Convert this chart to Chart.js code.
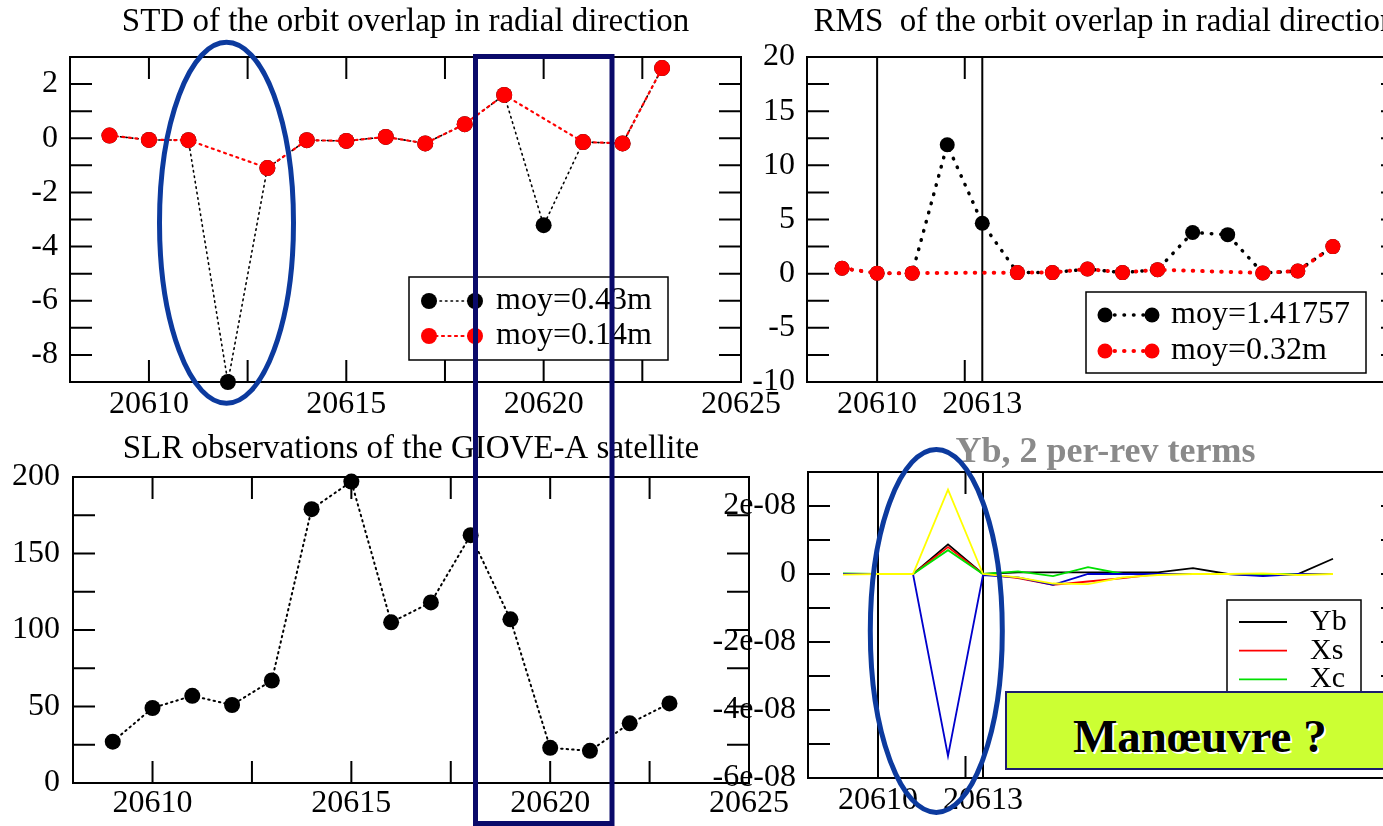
<!DOCTYPE html>
<html>
<head>
<meta charset="utf-8">
<script src="https://cdn.jsdelivr.net/npm/chart.js@4/dist/chart.umd.min.js"></script>
<style>
  html, body { margin: 0; padding: 0; background: #fff; width: 1383px; height: 826px; overflow: hidden; position: relative; }
  canvas { position: absolute; }
  #overlay { position: absolute; left: 0; top: 0; pointer-events: none; }
  #manoeuvre {
    position: absolute; left: 1005px; top: 691px; width: 420px; height: 79px;
    background: #ccff33; border: 2px solid #1c1c6e; box-sizing: border-box;
    font: bold 47px 'Liberation Serif', serif; color: #000;
    text-shadow: 2px 2px 0 #fff; line-height: 86px; padding-left: 66px; white-space: nowrap;
  }
</style>
</head>
<body>
<canvas id="std" width="790" height="425" style="left:0;top:0"></canvas>
<canvas id="rms" width="680" height="425" style="left:740px;top:0"></canvas>
<canvas id="slr" width="790" height="406" style="left:0;top:420px"></canvas>
<canvas id="terms" width="720" height="406" style="left:700px;top:420px"></canvas>
<div id="manoeuvre">Manœuvre ?</div>
<svg id="overlay" width="1383" height="826">
  <ellipse cx="226.5" cy="222.8" rx="67" ry="180.5" fill="none" stroke="#0c3a9e" stroke-width="5"/>
  <rect x="475.5" y="56.5" width="136.5" height="767" fill="none" stroke="#0a0a6a" stroke-width="5"/>
  <ellipse cx="936.3" cy="630.9" rx="66" ry="181.5" fill="none" stroke="#0c3a9e" stroke-width="5"/>
</svg>
<script>
const FONT = "'Liberation Serif', 'Times New Roman', serif";
Chart.defaults.font.family = FONT;
Chart.defaults.font.size = 32;
Chart.defaults.color = "#000";
Chart.defaults.animation = false;

// Data
const days = [20609, 20610, 20611, 20612, 20613, 20614, 20615, 20616, 20617, 20618, 20619, 20620, 20621, 20622, 20623];

const stdBlack = [0.1, -0.06, -0.07, -9.0, -1.1, -0.07, -0.1, 0.05, -0.19, 0.52, 1.6, -3.21, -0.14, -0.19, 2.59];
const stdRed = [0.1, -0.06, -0.07, null, -1.1, -0.07, -0.1, 0.05, -0.19, 0.52, 1.6, null, -0.14, -0.19, 2.59];
const stdLabels = ["moy=0.43m", "moy=0.14m"];

const rmsBlack = [0.5, 0.05, 0.05, 11.9, 4.65, 0.1, 0.1, 0.43, 0.1, 0.37, 3.8, 3.6, 0.06, 0.25, 2.5];
const rmsRed = [0.5, 0.05, 0.05, null, null, 0.1, 0.1, 0.43, 0.1, 0.37, null, null, 0.06, 0.25, 2.5];
const rmsLabels = ["moy=1.41757", "moy=0.32m"];

const slrCounts = [27, 49, 57, 51, 67, 179, 197, 105, 118, 162, 107, 23, 21, 39, 52];

// per-rev terms, in units of 1e-8
const termYb = [0, 0, 0, 0.87, 0, 0.05, 0.05, 0.05, 0.05, 0.05, 0.17, 0, -0.04, 0, 0.45];
const termXs = [0, 0, 0, 0.79, 0, -0.12, -0.32, -0.22, -0.12, 0, 0, 0, 0, 0, 0];
const termXc = [0.02, 0, 0, 0.7, 0, 0.08, -0.06, 0.2, 0, 0, 0, 0, 0, 0, 0];
const termYs = [0, 0, 0, -5.35, -0.03, -0.1, -0.32, 0, 0, 0, 0, 0, -0.06, 0, 0];
const termYc = [-0.02, 0, 0, 2.48, 0, -0.1, -0.28, -0.3, -0.1, -0.03, 0, 0, 0.02, -0.03, 0];
const termNames = ["Yb", "Xs", "Xc", "Ys", "Yc"];

const wideXTicks = [20610, 20612.5, 20615, 20617.5, 20620, 20622.5, 20625];
const wideXLabels = [20610, 20615, 20620, 20625];
const narrowXTicks = [20610, 20612.5, 20613];
const narrowXLabels = [20610, 20613];
const termYTicks = [-6, -5, -4, -3, -2, -1, 0, 1, 2, 3];

const pts = (vals, scale = 1) => days.map((d, i) => ({ x: d, y: vals[i] === null ? null : vals[i] * scale }));

// Box with inner ticks on all four sides (xmgrace style)
const framePlugin = {
  id: "frame",
  beforeDatasetsDraw(chart, args, o) {
    const { ctx, chartArea: a, scales: { x, y } } = chart;
    const len = o.len || 22;
    ctx.save();
    ctx.strokeStyle = "#000";
    ctx.lineWidth = 2;
    ctx.strokeRect(a.left, a.top, a.right - a.left, a.bottom - a.top);
    ctx.beginPath();
    x.ticks.forEach((t) => {
      const px = x.getPixelForValue(t.value);
      ctx.moveTo(px, a.bottom); ctx.lineTo(px, a.bottom - len);
      ctx.moveTo(px, a.top); ctx.lineTo(px, a.top + len);
    });
    y.ticks.forEach((t) => {
      const py = y.getPixelForValue(t.value);
      ctx.moveTo(a.left, py); ctx.lineTo(a.left + len, py);
      ctx.moveTo(a.right, py); ctx.lineTo(a.right - len, py);
    });
    (o.xLines || []).forEach((v) => {
      const px = x.getPixelForValue(v);
      ctx.moveTo(px, a.top); ctx.lineTo(px, a.bottom);
    });
    ctx.stroke();
    ctx.restore();
  },
};

// Boxed legend placed inside the plot
const boxLegend = {
  id: "boxLegend",
  afterDatasetsDraw(chart, args, o) {
    if (!o.width) return;
    const { ctx, chartArea: a } = chart;
    const left = a.left + o.left, top = a.top + o.top;
    ctx.save();
    ctx.fillStyle = "#fff";
    ctx.fillRect(left, top, o.width, o.height);
    ctx.strokeStyle = "#000";
    ctx.lineWidth = 1.5;
    ctx.strokeRect(left, top, o.width, o.height);
    chart.data.datasets.forEach((ds, i) => {
      const cy = top + o.firstRow + i * o.rowGap;
      const x1 = left + o.sampleStart, x2 = left + o.sampleEnd;
      ctx.beginPath();
      ctx.setLineDash(ds.borderDash || []);
      ctx.lineCap = ds.borderCapStyle || "butt";
      ctx.strokeStyle = ds.borderColor;
      ctx.lineWidth = ds.borderWidth;
      ctx.moveTo(x1, cy); ctx.lineTo(x2, cy);
      ctx.stroke();
      ctx.setLineDash([]);
      if (ds.pointRadius) {
        ctx.fillStyle = ds.pointBackgroundColor;
        [x1, x2].forEach((px) => { ctx.beginPath(); ctx.arc(px, cy, ds.pointRadius, 0, Math.PI * 2); ctx.fill(); });
      }
      ctx.fillStyle = "#000";
      ctx.font = (o.fontSize || 32) + "px " + FONT;
      ctx.textBaseline = "middle";
      ctx.textAlign = "left";
      ctx.fillText(ds.label, left + o.textX, cy);
    });
    ctx.restore();
  },
};

function baseOptions({ title, titleFont, titleColor, titlePad, xMin, xMax, xTicks, xLabels, yMin, yMax, yStep, yTicks, yLabel, yWidth, xHeight, xPad, yPad, padRight, legend, frame }) {
  return {
    responsive: false,
    clip: false,
    layout: { autoPadding: false, padding: { left: 0, right: padRight, top: 0, bottom: 0 } },
    plugins: {
      legend: { display: false },
      tooltip: { enabled: false },
      title: {
        display: true, text: title, fullSize: false, color: titleColor || "#000",
        font: Object.assign({ size: 33, lineHeight: 1, weight: "normal" }, titleFont || {}),
        padding: titlePad,
      },
      boxLegend: legend,
      frame: frame || {},
    },
    scales: {
      x: {
        type: "linear", min: xMin, max: xMax,
        grid: { display: false, drawTicks: false }, border: { display: false },
        afterBuildTicks: (s) => { s.ticks = xTicks.map((v) => ({ value: v })); },
        afterFit: (s) => { s.height = xHeight; },
        ticks: { autoSkip: false, maxRotation: 0, padding: xPad, callback: (v) => (xLabels.includes(v) ? String(v) : "") },
      },
      y: {
        type: "linear", min: yMin, max: yMax,
        grid: { display: false, drawTicks: false }, border: { display: false },
        afterBuildTicks: yTicks ? (s) => { s.ticks = yTicks.map((v) => ({ value: v })); } : undefined,
        afterFit: (s) => { s.width = yWidth; },
        ticks: { autoSkip: false, padding: yPad, stepSize: yStep, callback: yLabel },
      },
    },
  };
}

const dotted = (color, width, dash, radius) => ({
  borderColor: color, borderWidth: width, borderDash: dash, borderCapStyle: "round",
  pointRadius: radius, pointBackgroundColor: color, pointBorderWidth: 0,
  pointHoverRadius: radius, spanGaps: true, tension: 0, clip: false,
});

new Chart(document.getElementById("std"), {
  type: "line",
  data: {
    datasets: [
      Object.assign({ label: stdLabels[0], data: pts(stdBlack), order: 2 }, dotted("#000", 1.6, [1.5, 4], 8)),
      Object.assign({ label: stdLabels[1], data: pts(stdRed), order: 1 }, dotted("#ff0000", 2.2, [2, 4.5], 8)),
    ],
  },
  options: baseOptions({
    title: "STD of the orbit overlap in radial direction", titlePad: { top: 6, bottom: 18 },
    xMin: 20608, xMax: 20625, xTicks: wideXTicks, xLabels: wideXLabels,
    yMin: -9, yMax: 3, yStep: 1, yLabel: (v) => (v % 2 === 0 ? String(v) : ""),
    yWidth: 70, xHeight: 43, xPad: 3, yPad: 12, padRight: 49,
    legend: { left: 339, top: 220, width: 259, height: 83, firstRow: 24, rowGap: 35, sampleStart: 20, sampleEnd: 66, textX: 87 },
  }),
  plugins: [framePlugin, boxLegend],
});

new Chart(document.getElementById("rms"), {
  type: "line",
  data: {
    datasets: [
      Object.assign({ label: rmsLabels[0], data: pts(rmsBlack), order: 2 }, dotted("#000", 3.5, [0.5, 9], 7.5)),
      Object.assign({ label: rmsLabels[1], data: pts(rmsRed), order: 1 }, dotted("#ff0000", 4, [0.5, 9], 7.5)),
    ],
  },
  options: baseOptions({
    title: "RMS  of the orbit overlap in radial direction", titlePad: { top: 6, bottom: 18 },
    xMin: 20608, xMax: 20625, xTicks: narrowXTicks, xLabels: narrowXLabels,
    yMin: -10, yMax: 20, yStep: 2.5, yLabel: (v) => (v % 5 === 0 ? String(v) : ""),
    yWidth: 67, xHeight: 43, xPad: 3, yPad: 12, padRight: 17,
    legend: { left: 279, top: 235, width: 280, height: 81, firstRow: 23, rowGap: 36, sampleStart: 19, sampleEnd: 66, textX: 85 },
    frame: { xLines: narrowXLabels },
  }),
  plugins: [framePlugin, boxLegend],
});

new Chart(document.getElementById("slr"), {
  type: "line",
  data: {
    datasets: [
      Object.assign({ label: "SLR", data: pts(slrCounts) }, dotted("#000", 2, [1.5, 4], 8)),
    ],
  },
  options: baseOptions({
    title: "SLR observations of the GIOVE-A satellite", titlePad: { top: 13, bottom: 11 },
    xMin: 20608, xMax: 20625, xTicks: wideXTicks, xLabels: wideXLabels,
    yMin: 0, yMax: 200, yStep: 25, yLabel: (v) => (v % 50 === 0 ? String(v) : ""),
    yWidth: 73, xHeight: 43, xPad: 1, yPad: 13, padRight: 41,
    legend: {},
  }),
  plugins: [framePlugin, boxLegend],
});

const termColors = ["#000000", "#ff0000", "#00e000", "#0000cc", "#ffff00"];
const termSeries = [termYb, termXs, termXc, termYs, termYc];
new Chart(document.getElementById("terms"), {
  type: "line",
  data: {
    datasets: termSeries.map((vals, i) => ({
      label: termNames[i], data: pts(vals, 1e-8), order: 5 - i,
      borderColor: termColors[i], borderWidth: 1.8, pointRadius: 0, tension: 0, clip: false,
    })),
  },
  options: baseOptions({
    title: "Yb, 2 per-rev terms", titleColor: "#8a8a8a", titleFont: { size: 36, weight: "bold" }, titlePad: { top: 15, bottom: 1 },
    xMin: 20608, xMax: 20625, xTicks: narrowXTicks, xLabels: narrowXLabels,
    yMin: -6e-8, yMax: 3e-8, yTicks: termYTicks.map((v) => v * 1e-8),
    yLabel: (v) => { const n = Math.round(v * 1e8); return n % 2 !== 0 ? "" : n === 0 ? "0" : n + "e-08"; },
    yWidth: 108, xHeight: 48, xPad: 3, yPad: 12, padRight: 17,
    legend: { left: 419, top: 128, width: 134, height: 160, firstRow: 22, rowGap: 28.7, sampleStart: 12, sampleEnd: 60, textX: 83, fontSize: 30 },
    frame: { xLines: narrowXLabels },
  }),
  plugins: [framePlugin, boxLegend],
});
</script>
</body>
</html>
